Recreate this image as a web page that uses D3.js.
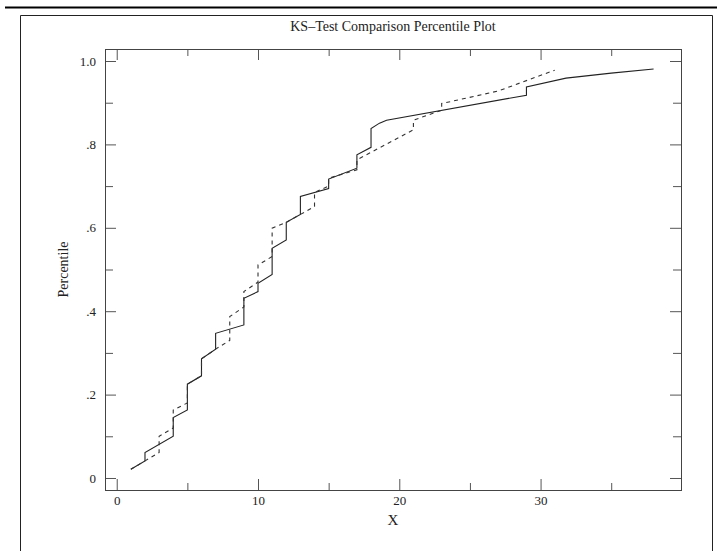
<!DOCTYPE html>
<html>
<head>
<meta charset="utf-8">
<script src="https://cdn.jsdelivr.net/npm/d3@7"></script>
<style>
  body { margin: 0; background: #fff; }
  svg { display: block; }
  .tick text { font-family: "Liberation Serif", "DejaVu Serif", serif; font-size: 13px; fill: #222; }
  .tick line { stroke: #555; }
  .lab { font-family: "Liberation Serif", "DejaVu Serif", serif; fill: #222; }
</style>
</head>
<body>
<div class="graphbox"></div>
<script>
// sample 1 (solid): vertices of the percentile curve
var solidX = [1,2,2,4,4,5,5,6,6,7,7,9,9,10,10,11,11,12,12,13,13,15,15,17,17,18,18,18.6,19.1,29,29,31.8,35,38]
var solidP = [0.021,0.041,0.061,0.100,0.145,0.163,0.225,0.245,0.286,0.309,0.347,0.367,0.431,0.447,0.467,0.488,0.551,0.571,0.613,0.632,0.675,0.694,0.717,0.743,0.775,0.793,0.838,0.851,0.858,0.918,0.938,0.959,0.971,0.981]

// sample 2 (dashed)
var dashX = [1,3,3,4,4,5,5,6,6,7,8,8,9,9,10,10,11,11,12,14,14,15,15,17,17,21,21,23,23,27,31]
var dashP = [0.021,0.061,0.100,0.120,0.163,0.180,0.225,0.245,0.286,0.309,0.330,0.387,0.410,0.447,0.470,0.511,0.531,0.599,0.613,0.651,0.685,0.700,0.719,0.739,0.763,0.835,0.858,0.882,0.898,0.928,0.978]

var yTicks = [0,0.2,0.4,0.6,0.8,1.0]
var yTickLabels = ["0",".2",".4",".6",".8","1.0"]
var yMinor = [0.1,0.3,0.5,0.7,0.9]
var xTicks = [0,10,20,30]
var xTickLabels = ["0","10","20","30"]
var xMinor = [5,15,25,35]

var svgWidth = 717;
var svgHeight = 551;
var pLeft = 105, pRight = 681, pTop = 49, pBottom = 490;

var mysvg = d3.select(".graphbox")
  .append("svg")
  .attr("width", svgWidth)
  .attr("height", svgHeight);

// page frame
mysvg.append("line")
  .attr("x1", 5).attr("x2", 717).attr("y1", 7.5).attr("y2", 7.5)
  .attr("stroke", "#000").attr("stroke-width", 2);
mysvg.append("path")
  .attr("d", "M20.5,560V15.5H712.5V560")
  .attr("fill", "none").attr("stroke", "#222").attr("stroke-width", 1);

var x = d3.scaleLinear().domain([-0.83, 39.94]).range([pLeft, pRight]);
var y = d3.scaleLinear().domain([-0.0288, 1.0288]).range([pBottom, pTop]);

function fmtY(d) { return yTickLabels[yTicks.indexOf(d)]; }
function fmtX(d) { return xTickLabels[xTicks.indexOf(d)]; }

// left axis
mysvg.append("g").attr("transform", "translate(" + pLeft + ",0)")
  .call(d3.axisLeft(y).tickValues(yTicks).tickFormat(fmtY).tickSize(-11).tickSizeOuter(0).tickPadding(9));
mysvg.append("g").attr("transform", "translate(" + pLeft + ",0)")
  .call(d3.axisLeft(y).tickValues(yMinor).tickFormat("").tickSize(-8).tickSizeOuter(0));
// right axis
mysvg.append("g").attr("transform", "translate(" + pRight + ",0)")
  .call(d3.axisRight(y).tickValues(yTicks).tickFormat("").tickSize(-11).tickSizeOuter(0));
mysvg.append("g").attr("transform", "translate(" + pRight + ",0)")
  .call(d3.axisRight(y).tickValues(yMinor).tickFormat("").tickSize(-8).tickSizeOuter(0));
// bottom axis
mysvg.append("g").attr("transform", "translate(0," + pBottom + ")")
  .call(d3.axisBottom(x).tickValues(xTicks).tickFormat(fmtX).tickSize(-11).tickSizeOuter(0).tickPadding(6));
mysvg.append("g").attr("transform", "translate(0," + pBottom + ")")
  .call(d3.axisBottom(x).tickValues(xMinor).tickFormat("").tickSize(-7).tickSizeOuter(0));
// top axis
mysvg.append("g").attr("transform", "translate(0," + pTop + ")")
  .call(d3.axisTop(x).tickValues(xTicks).tickFormat("").tickSize(-11).tickSizeOuter(0));
mysvg.append("g").attr("transform", "translate(0," + pTop + ")")
  .call(d3.axisTop(x).tickValues(xMinor).tickFormat("").tickSize(-7).tickSizeOuter(0));

mysvg.selectAll(".domain").remove();

mysvg.append("rect")
  .attr("x", pLeft + 0.5).attr("y", pTop + 0.5)
  .attr("width", pRight - pLeft).attr("height", pBottom - pTop)
  .attr("fill", "none").attr("stroke", "#444").attr("stroke-width", 1);

var line = d3.line()
  .x(function(d) { return x(d[0]); })
  .y(function(d) { return y(d[1]); });

mysvg.append("path")
  .datum(solidX.map(function(d, i) { return [d, solidP[i]]; }))
  .attr("d", line)
  .attr("fill", "none").attr("stroke", "#222").attr("stroke-width", 1.1);

mysvg.append("path")
  .datum(dashX.map(function(d, i) { return [d, dashP[i]]; }))
  .attr("d", line)
  .attr("fill", "none").attr("stroke", "#333").attr("stroke-width", 1.1)
  .attr("stroke-dasharray", "4,4");

// labels
mysvg.append("text").attr("class", "lab")
  .attr("x", (pLeft + pRight) / 2).attr("y", 31)
  .attr("text-anchor", "middle").attr("font-size", 14)
  .text("KS\u2013Test Comparison Percentile Plot");

mysvg.append("text").attr("class", "lab")
  .attr("x", (pLeft + pRight) / 2).attr("y", 525)
  .attr("text-anchor", "middle").attr("font-size", 15)
  .text("X");

mysvg.append("text").attr("class", "lab")
  .attr("transform", "translate(68," + ((pTop + pBottom) / 2) + ") rotate(-90)")
  .attr("text-anchor", "middle").attr("font-size", 14)
  .text("Percentile");
</script>
</body>
</html>
